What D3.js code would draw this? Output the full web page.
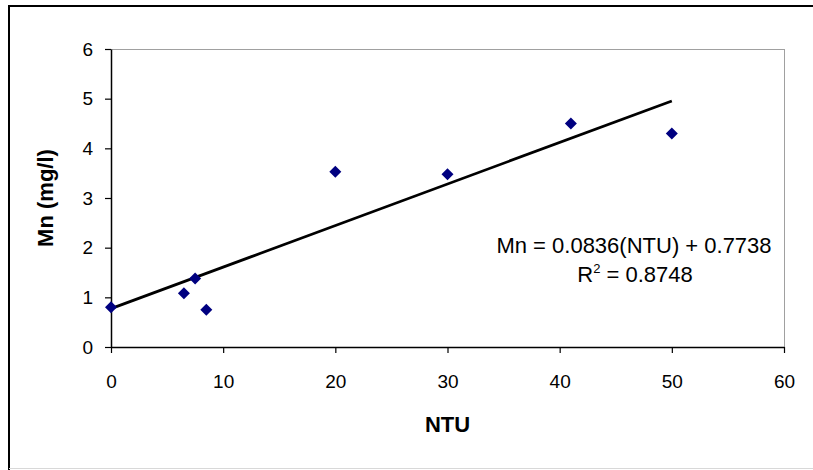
<!DOCTYPE html>
<html>
<head>
<meta charset="utf-8">
<script src="https://cdn.jsdelivr.net/npm/d3@7"></script>
<style>
  html, body { margin: 0; padding: 0; background: #fff; }
  svg { display: block; }
  text { font-family: "Liberation Sans", Arial, sans-serif; fill: #000; }
</style>
</head>
<body>
<svg id="chart" width="813" height="470"></svg>
<script>
const ntu = [0, 6.5, 7.5, 8.5, 20, 30, 41, 50];
const mn  = [0.8, 1.08, 1.38, 0.75, 3.53, 3.48, 4.5, 4.3];
const xTicks = [0, 10, 20, 30, 40, 50, 60];
const yTicks = [0, 1, 2, 3, 4, 5, 6];
const slope = 0.0836, intercept = 0.7738, r2 = 0.8748;
const trendX = [0, 50];

(function () {
const svg = d3.select("#chart");
const W = 813, H = 470;
const pLeft = 111, pRight = 784, pTop = 49, pBottom = 347;

svg.append("rect").attr("x", 0).attr("y", 0).attr("width", W).attr("height", H).attr("fill", "#fff");
svg.append("line").attr("x1", 8.5).attr("x2", W).attr("y1", 6).attr("y2", 6).attr("stroke", "#000").attr("stroke-width", 2);
svg.append("line").attr("x1", 9).attr("x2", 9).attr("y1", 5).attr("y2", H).attr("stroke", "#000").attr("stroke-width", 2);
svg.append("line").attr("x1", 9).attr("x2", W).attr("y1", 468.5).attr("y2", 468.5).attr("stroke", "#d8d8d8").attr("stroke-width", 1);

const x = d3.scaleLinear().domain([0, 60]).range([pLeft, pRight]);
const y = d3.scaleLinear().domain([0, 6]).range([pBottom, pTop]);

svg.append("line").attr("x1", pLeft).attr("x2", pRight).attr("y1", pTop + 0.5).attr("y2", pTop + 0.5).attr("stroke", "#a0a0a0");
svg.append("line").attr("x1", pRight + 0.5).attr("x2", pRight + 0.5).attr("y1", pTop).attr("y2", pBottom).attr("stroke", "#a0a0a0");

const xAxis = d3.axisBottom(x).tickValues(xTicks).tickFormat(d3.format("d")).tickSize(6).tickSizeOuter(0).tickPadding(22);
const yAxis = d3.axisLeft(y).tickValues(yTicks).tickFormat(d3.format("d")).tickSize(6).tickSizeOuter(0).tickPadding(12);

const gx = svg.append("g").attr("transform", `translate(0,${pBottom})`).call(xAxis);
const gy = svg.append("g").attr("transform", `translate(${pLeft},0)`).call(yAxis);
[gx, gy].forEach(g => {
  g.select(".domain").attr("stroke", "#000").attr("stroke-width", 1.5);
  g.selectAll(".tick line").attr("stroke", "#000").attr("stroke-width", 1.2);
  g.selectAll(".tick text").attr("font-size", 19).attr("font-family", "Liberation Sans, Arial, sans-serif").attr("fill", "#000");
});

svg.append("line")
  .attr("x1", x(trendX[0])).attr("y1", y(slope * trendX[0] + intercept))
  .attr("x2", x(trendX[1])).attr("y2", y(slope * trendX[1] + intercept))
  .attr("stroke", "#000").attr("stroke-width", 2.8);

const diamond = d3.symbol().type(d3.symbolSquare).size(72);
svg.append("g").selectAll("path").data(ntu.map((v, i) => [v, mn[i]])).join("path")
  .attr("d", diamond)
  .attr("transform", d => `translate(${x(d[0])},${y(d[1])}) rotate(45)`)
  .attr("fill", "#000080");

svg.append("text").attr("x", 634).attr("y", 253).attr("text-anchor", "middle").attr("font-size", 22)
  .text(`Mn = ${slope}(NTU) + ${intercept}`);
const r2t = svg.append("text").attr("x", 635).attr("y", 282).attr("text-anchor", "middle").attr("font-size", 22);
r2t.append("tspan").text("R");
r2t.append("tspan").attr("font-size", 13).attr("dy", -9).text("2");
r2t.append("tspan").attr("dy", 9).text(` = ${r2}`);

svg.append("text").attr("x", (pLeft + pRight) / 2).attr("y", 432).attr("text-anchor", "middle")
  .attr("font-size", 22).attr("font-weight", "bold").text("NTU");
svg.append("text").attr("transform", `translate(53,${(pTop + pBottom) / 2}) rotate(-90)`).attr("text-anchor", "middle")
  .attr("font-size", 22).attr("font-weight", "bold").text("Mn (mg/l)");
})();
</script>
</body>
</html>
